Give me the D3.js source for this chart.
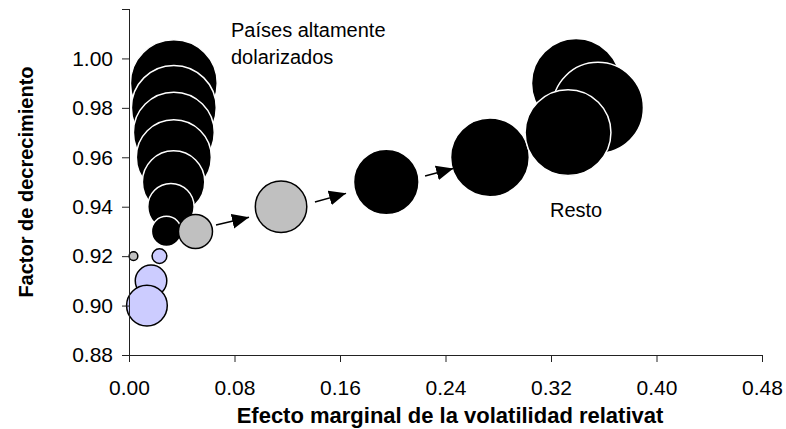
<!DOCTYPE html>
<html>
<head>
<meta charset="utf-8">
<script src="https://cdn.jsdelivr.net/npm/d3@7"></script>
<style>
  body { margin: 0; background: #fff; }
  text { font-family: "Liberation Sans", Arial, sans-serif; }
</style>
</head>
<body>
<div id="chart"></div>
<script>
const width = 786;
const height = 429;

// bubbles, listed in drawing order
const ptX = [0.034, 0.034, 0.034, 0.034, 0.0338, 0.0318, 0.0284, 0.0504, 0.1153, 0.1951, 0.2737, 0.339, 0.3556, 0.3329, 0.0034, 0.0231, 0.0167, 0.0136];
const ptY = [0.99, 0.98, 0.97, 0.96, 0.95, 0.94, 0.93, 0.93, 0.94, 0.95, 0.96, 0.99, 0.98, 0.97, 0.92, 0.92, 0.91, 0.90];
const ptSize = [91, 87, 79, 68, 47, 26, 11, 14, 32, 52, 75, 96, 100, 89, 0.9, 2.6, 12, 20];
const ptGroup = ['negro', 'negro', 'negro', 'negro', 'negro', 'negro', 'negro', 'gris', 'gris', 'negro', 'negro', 'negro', 'negro', 'negro', 'gris', 'lila', 'lila', 'lila'];

// arrows between bubbles
const arrowFrom = [[0.0660, 0.9326], [0.1410, 0.9419], [0.2245, 0.9524]];
const arrowTo = [[0.0910, 0.9357], [0.1646, 0.9454], [0.2459, 0.9555]];

const xTicks = [0, 0.08, 0.16, 0.24, 0.32, 0.40, 0.48];
const yTicks = [0.88, 0.90, 0.92, 0.94, 0.96, 0.98, 1.00, 1.02];

const fills = { negro: '#000', gris: '#c0c0c0', lila: '#ccccff' };
const strokes = { negro: '#fff', gris: '#000', lila: '#000' };

const svg = d3.select('#chart')
  .append('svg')
  .attr('width', width)
  .attr('height', height);

const xScale = d3.scaleLinear().domain([0, 0.48]).range([129, 762]);
const yScale = d3.scaleLinear().domain([0.88, 1.02]).range([355, 9]);
const rScale = d3.scaleSqrt().domain([0, 100]).range([0, 45.5]);

svg.append('defs').append('marker')
  .attr('id', 'head')
  .attr('markerUnits', 'userSpaceOnUse')
  .attr('viewBox', '0 -8 17 16')
  .attr('refX', 17)
  .attr('refY', 0)
  .attr('markerWidth', 17)
  .attr('markerHeight', 16)
  .attr('orient', 'auto')
  .append('path')
  .attr('d', 'M0,-7.5L17,0L0,7.5Z')
  .attr('fill', '#000');

const points = ptX.map((x, i) => ({ x: x, y: ptY[i], s: ptSize[i], g: ptGroup[i] }));

svg.selectAll('circle')
  .data(points)
  .enter()
  .append('circle')
  .attr('cx', d => xScale(d.x))
  .attr('cy', d => yScale(d.y))
  .attr('r', d => rScale(d.s))
  .attr('fill', d => fills[d.g])
  .attr('stroke', d => strokes[d.g])
  .attr('stroke-width', 1.5);

svg.selectAll('line.arrow')
  .data(arrowFrom)
  .enter()
  .append('line')
  .attr('class', 'arrow')
  .attr('x1', d => xScale(d[0]))
  .attr('y1', d => yScale(d[1]))
  .attr('x2', (d, i) => xScale(arrowTo[i][0]))
  .attr('y2', (d, i) => yScale(arrowTo[i][1]))
  .attr('stroke', '#000')
  .attr('stroke-width', 1.5)
  .attr('marker-end', 'url(#head)');

const xAxis = d3.axisBottom(xScale)
  .tickValues(xTicks)
  .tickSize(7)
  .tickPadding(18)
  .tickFormat(d3.format('.2f'));

const yAxis = d3.axisLeft(yScale)
  .tickValues(yTicks)
  .tickSize(7)
  .tickPadding(9)
  .tickFormat(d => d > 1.01 ? '' : d3.format('.2f')(d));

svg.append('g')
  .attr('transform', 'translate(0,355)')
  .call(xAxis)
  .call(g => g.select('.domain').attr('d', 'M129,0.5H762.5'));

svg.append('g')
  .attr('transform', 'translate(129,0)')
  .call(yAxis)
  .call(g => g.select('.domain').attr('d', 'M0.5,9V355'));

svg.selectAll('.tick text')
  .attr('font-size', 21)
  .attr('font-family', '"Liberation Sans", Arial, sans-serif')
  .attr('fill', '#000');
svg.selectAll('.tick line, .domain').attr('stroke', '#222');

svg.append('text')
  .attr('x', 450)
  .attr('y', 423)
  .attr('text-anchor', 'middle')
  .attr('font-size', 22)
  .attr('font-weight', 'bold')
  .text('Efecto marginal de la volatilidad relativat');

svg.append('text')
  .attr('transform', 'translate(33,182) rotate(-90)')
  .attr('text-anchor', 'middle')
  .attr('font-size', 20)
  .attr('font-weight', 'bold')
  .text('Factor de decrecimiento');

svg.append('text')
  .attr('x', 231)
  .attr('y', 37)
  .attr('font-size', 20)
  .text('Países altamente');

svg.append('text')
  .attr('x', 231)
  .attr('y', 64)
  .attr('font-size', 20)
  .text('dolarizados');

svg.append('text')
  .attr('x', 550)
  .attr('y', 217)
  .attr('font-size', 20)
  .text('Resto');
</script>
</body>
</html>
